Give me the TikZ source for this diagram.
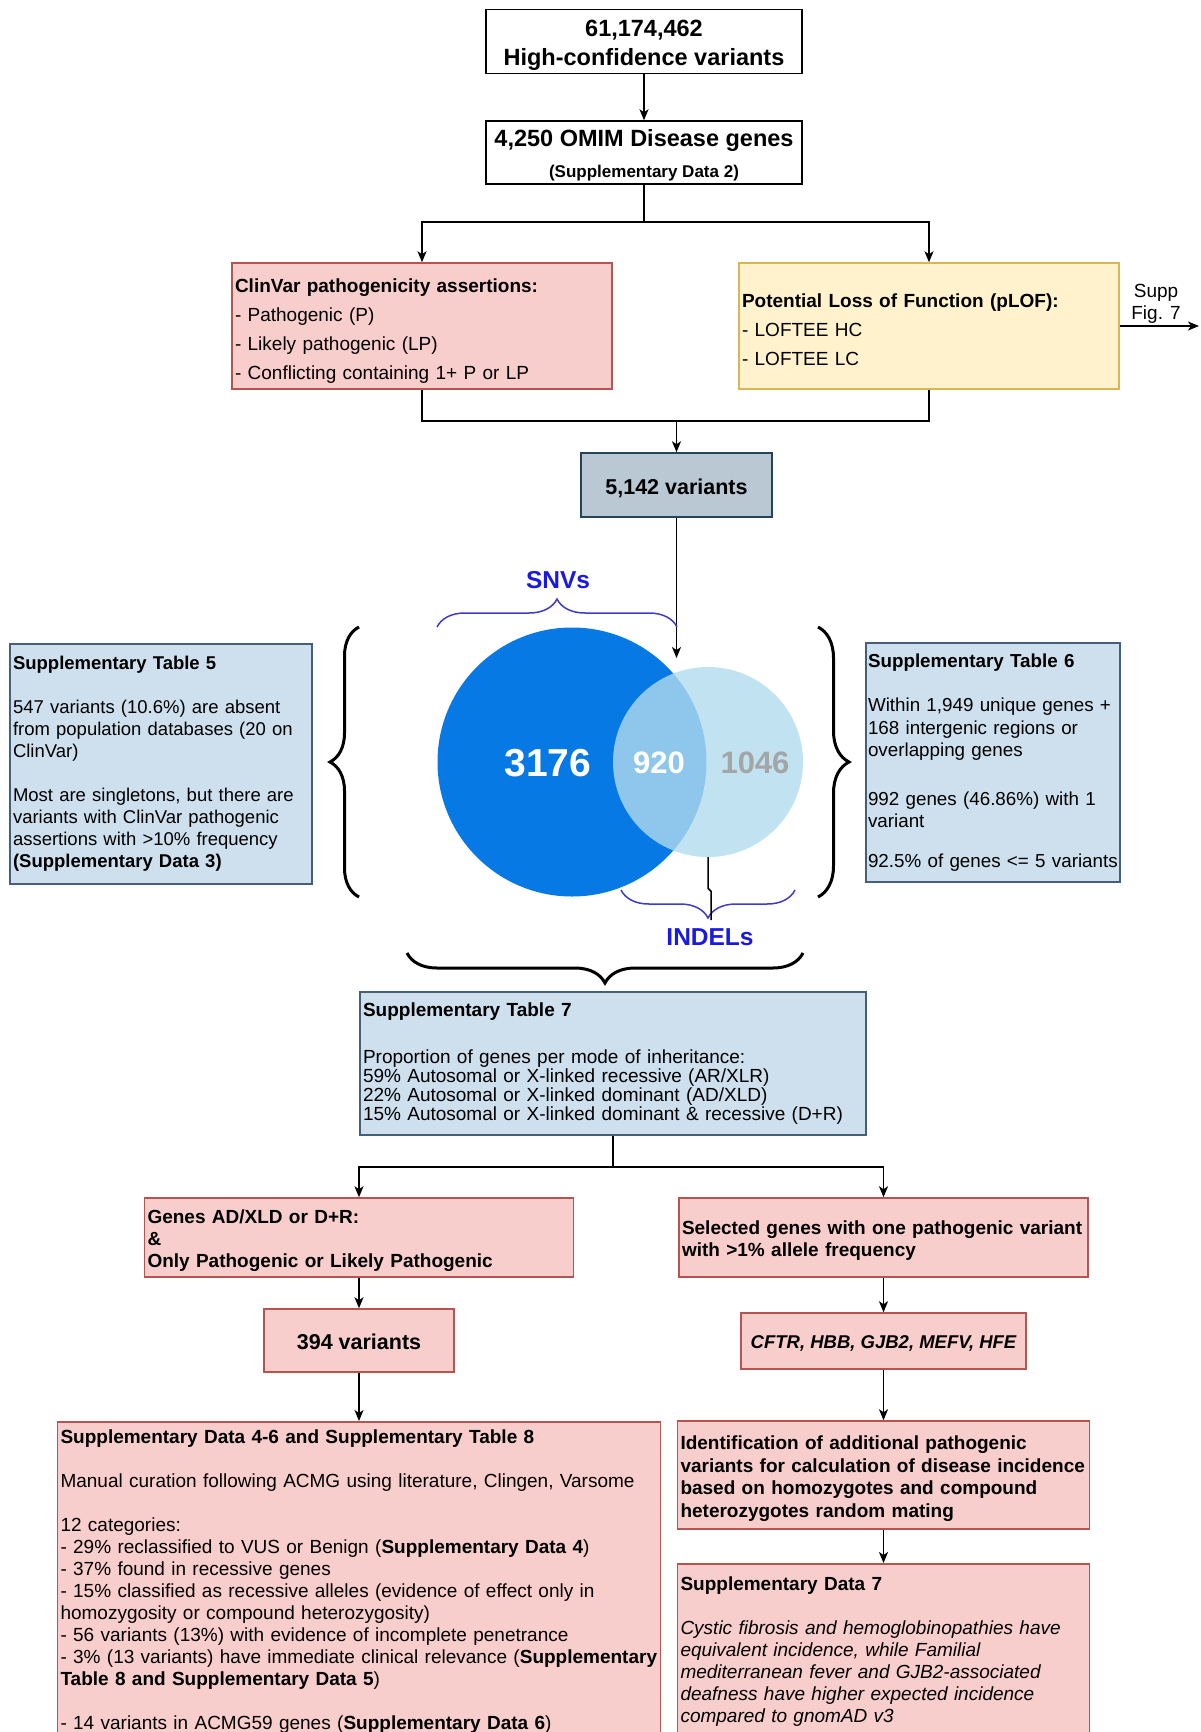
\documentclass[tikz,border=0pt]{standalone}
\usepackage{fontspec}
\setmainfont{Liberation Sans}
\usetikzlibrary{arrows.meta,decorations.pathreplacing}

\definecolor{redfill}{RGB}{248,206,204}
\definecolor{reddraw}{RGB}{184,84,80}
\definecolor{yelfill}{RGB}{255,242,204}
\definecolor{yeldraw}{RGB}{214,182,86}
\definecolor{greyfill}{RGB}{186,200,211}
\definecolor{greydraw}{RGB}{35,68,93}
\definecolor{tabfill}{RGB}{206,224,238}
\definecolor{tabdraw}{RGB}{70,95,120}
\definecolor{snvblue}{RGB}{7,121,228}
\definecolor{indelblue}{RGB}{177,219,238}
\definecolor{labelblue}{RGB}{25,25,225}
\definecolor{bracblue}{RGB}{60,60,200}
\definecolor{numgrey}{RGB}{165,165,165}

\newcommand{\fsz}[2]{\fontsize{#1}{#2}\selectfont}
% invisible rule, pushes the first line down a little
\newcommand{\tsp}[1]{\rule{0pt}{#1em}}

\tikzset{
  box/.style={draw, line width=1.5pt, inner sep=3pt},
  plainbox/.style={box, fill=white, draw=black},
  redbox/.style={box, fill=redfill, draw=reddraw},
  yelbox/.style={box, fill=yelfill, draw=yeldraw},
  greybox/.style={box, fill=greyfill, draw=greydraw},
  tabbox/.style={box, fill=tabfill, draw=tabdraw},
  line/.style={line width=1.5pt},
  flow/.style={line width=1.5pt, -{Stealth[length=11pt,width=9pt,inset=3pt]}},
  bigbrace/.style={line width=3pt, decorate, decoration={brace, amplitude=#1}},
  smallbrace/.style={line width=1.5pt, draw=bracblue, decorate, decoration={brace, amplitude=#1}},
}

\begin{document}
\begin{tikzpicture}[x=1pt, y=-1pt]
\useasboundingbox (0,0) rectangle (1200,1732);
\clip (0,0) rectangle (1200,1732);

% top of the funnel
\node[plainbox, minimum width=316pt, minimum height=63pt, align=center, font=\fsz{23.5}{29}\bfseries] (total) at (644,41.5) {\tsp{1.01}61,174,462\\High-confidence variants};
\node[plainbox, minimum width=316pt, minimum height=63pt, align=center, font=\fsz{23.5}{31}\bfseries] (omim) at (644,152.5) {\tsp{0.92}4,250 OMIM Disease genes\\{\fsz{17}{31}(Supplementary Data 2)}};

\node[redbox, text width=374pt, minimum height=126pt, align=left, font=\fsz{19}{29}] (clinvar) at (422,326) {\tsp{1.26}\textbf{ClinVar pathogenicity assertions:}\\- Pathogenic (P)\\- Likely pathogenic (LP)\\- Conflicting containing 1+ P or LP};
\node[yelbox, text width=374pt, minimum height=126pt, align=left, font=\fsz{19}{29}] (plof) at (929,326) {\tsp{1.08}\textbf{Potential Loss of Function (pLOF):}\\- LOFTEE HC\\- LOFTEE LC};
\node[align=center, font=\fsz{19}{22}] (suppfig) at (1156,304) {Supp\\Fig. 7};
\coordinate (figend) at (1199,326);

\node[greybox, minimum width=191pt, minimum height=64pt, font=\fsz{21.5}{26}\bfseries] (variants) at (676.5,485) {\tsp{1.04}5,142 variants};

\draw[flow] (total) -- (omim);
\coordinate (split1) at (644,222);
\draw[line] (omim.south) -- (split1);
\draw[flow] (split1) -| (clinvar.north);
\draw[flow] (split1) -| (plof.north);
\draw[flow] (plof.east) -- (figend);
\coordinate (merge) at (676.5,421);
\draw[line] (clinvar.south) |- (merge);
\draw[line] (plof.south) |- (merge);
\draw[flow] (merge) -- (variants.north);

% venn
\node[circle, fill=snvblue, minimum size=269pt, inner sep=0pt] (snv) at (572,762) {};
\node[circle, fill=indelblue, fill opacity=0.8, minimum size=190pt, inner sep=0pt] (indel) at (708,762) {};
\node[font=\fsz{39}{40}\bfseries, text=white] (n3176) at (548,763) {3176};
\node[font=\fsz{31}{32}\bfseries, text=white] (n920) at (659,763) {920};
\node[font=\fsz{31}{32}\bfseries, text=numgrey] (n1046) at (755,763) {1046};
\coordinate (venntop) at (676.5,658);
\draw[flow] (variants.south) -- (venntop);

\node[font=\fsz{24.5}{28}\bfseries, text=labelblue] (snvlabel) at (558,580) {SNVs};
\node[font=\fsz{24.5}{28}\bfseries, text=labelblue] (indellabel) at (710,937) {INDELs};
\draw[smallbrace=28pt] (437,627) -- (677,627);
\draw[smallbrace=28pt] (795,890) -- (621,890);
\coordinate (indelend) at (711,920);
\draw[line] (indel.south) -- ++(0,31) -- ++(3,3) -- (indelend);

\draw[bigbrace=29pt] (359,897) -- (359,627);
\draw[bigbrace=31pt] (818,627) -- (818,897);
\draw[bigbrace=30pt] (803,953) -- (407,953);

\node[tabbox, text width=296pt, minimum height=240pt, align=left, font=\fsz{18.5}{22}] (tab5) at (161,764) {\textbf{Supplementary Table 5}\\[22pt]547 variants (10.6\%) are absent\\from population databases (20 on\\ClinVar)\\[22pt]Most are singletons, but there are\\variants with ClinVar pathogenic\\assertions with >10\% frequency\\\textbf{(Supplementary Data 3)}};
\node[tabbox, text width=250pt, inner xsep=2pt, minimum height=239pt, align=left, font=\fsz{18.8}{22.5}] (tab6) at (993,762.5) {\textbf{Supplementary Table 6}\\[22pt]Within 1,949 unique genes +\\168 intergenic regions or\\overlapping genes\\[26pt]992 genes (46.86\%) with 1\\variant\\[17pt]92.5\% of genes <= 5 variants};

% lower part
\node[tabbox, text width=500pt, minimum height=143pt, align=left, font=\fsz{19}{19}] (tab7) at (613,1063.5) {\textbf{Supplementary Table 7}\\[28pt]Proportion of genes per mode of inheritance:\\59\% Autosomal or X-linked recessive (AR/XLR)\\22\% Autosomal or X-linked dominant (AD/XLD)\\15\% Autosomal or X-linked dominant \& recessive (D+R)};

\node[redbox, text width=423pt, minimum height=79pt, align=left, font=\fsz{19}{22}\bfseries] (genes) at (359,1237.5) {\tsp{1.08}Genes AD/XLD or D+R:\\\&\\Only Pathogenic or Likely Pathogenic};
\node[redbox, text width=403pt, minimum height=79pt, align=left, font=\fsz{19}{22}\bfseries] (selected) at (883.5,1237.5) {\tsp{1.08}Selected genes with one pathogenic variant\\with >1\% allele frequency};
\node[redbox, minimum width=190pt, minimum height=63pt, font=\fsz{21.5}{26}\bfseries] (v394) at (359,1340.5) {\tsp{0.83}394 variants};
\node[redbox, minimum width=285pt, minimum height=56pt, font=\fsz{18.5}{22}\bfseries\itshape] (cftr) at (883.5,1341) {\tsp{0.97}CFTR, HBB, GJB2, MEFV, HFE};

\node[redbox, anchor=north, text width=597pt, inner ysep=8pt, align=left, font=\fsz{19}{22}] (curation) at (359,1421) {\textbf{Supplementary Data 4-6 and Supplementary Table 8}\\[22pt]Manual curation following ACMG using literature, Clingen, Varsome\\[22pt]12 categories:\\- 29\% reclassified to VUS or Benign (\textbf{Supplementary Data 4})\\- 37\% found in recessive genes\\- 15\% classified as recessive alleles (evidence of effect only in\\homozygosity or compound heterozygosity)\\- 56 variants (13\%) with evidence of incomplete penetrance\\- 3\% (13 variants) have immediate clinical relevance (\textbf{Supplementary}\\\textbf{Table 8 and Supplementary Data 5})\\[22pt]- 14 variants in ACMG59 genes (\textbf{Supplementary Data 6})\\\mbox{}};
\node[redbox, text width=406pt, minimum height=108pt, align=left, font=\fsz{19}{22.5}\bfseries] (ident) at (883.5,1475) {\tsp{1.08}Identification of additional pathogenic\\variants for calculation of disease incidence\\based on homozygotes and compound\\heterozygotes random mating};
\node[redbox, anchor=north, text width=406pt, inner ysep=13pt, align=left, font=\fsz{19}{22}] (sd7) at (883.5,1563) {\textbf{Supplementary Data 7}\\[22pt]\textit{Cystic fibrosis and hemoglobinopathies have}\\\textit{equivalent incidence, while Familial}\\\textit{mediterranean fever and GJB2-associated}\\\textit{deafness have higher expected incidence}\\\textit{compared to gnomAD v3}\\\mbox{}};

\coordinate (split2) at (613,1167);
\draw[line] (tab7.south) -- (split2);
\draw[flow] (split2) -| (genes.north);
\draw[flow] (split2) -| (selected.north);
\draw[flow] (genes.south) -- (v394.north);
\draw[flow] (v394.south) -- (curation.north);
\draw[flow] (selected.south) -- (cftr.north);
\draw[flow] (cftr.south) -- (ident.north);
\draw[flow] (ident.south) -- (sd7.north);
\end{tikzpicture}
\end{document}
